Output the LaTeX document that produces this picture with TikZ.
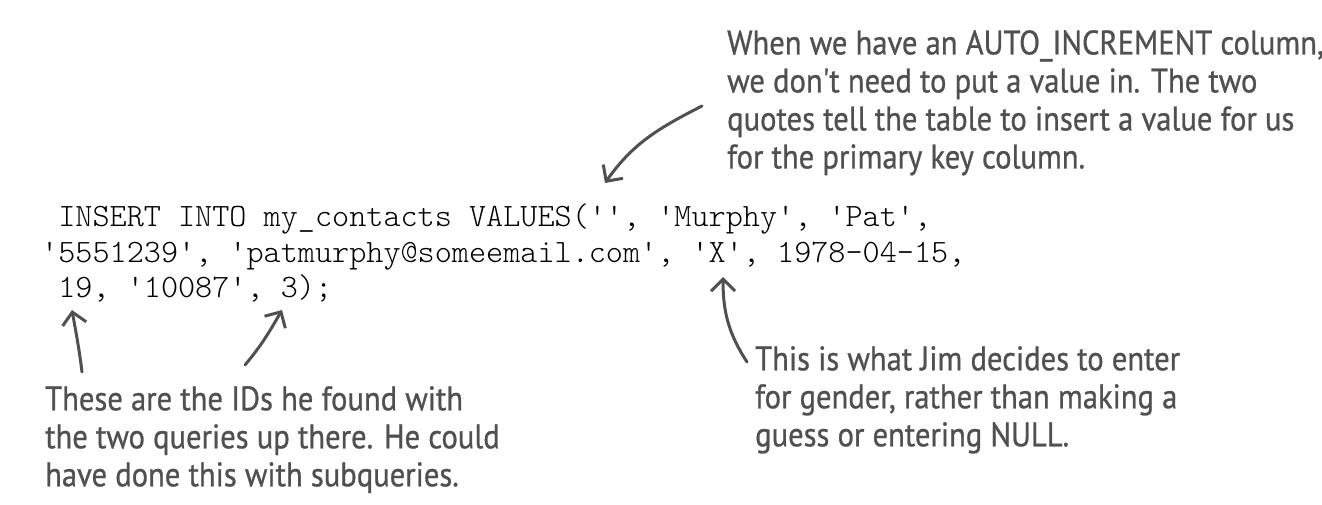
\documentclass[tikz,border=0pt]{standalone}
\usepackage{fontspec}
\setmonofont{Latin Modern Mono Light}
\newfontfamily\handfont[FakeStretch=0.9,FakeBold=0.8]{PT Sans}
\usetikzlibrary{arrows.meta}
\definecolor{pencil}{HTML}{505050}
\tikzset{
  code/.style={anchor=base west, inner sep=0pt, font=\ttfamily\fontsize{32.6}{35}\selectfont},
  hand/.style={anchor=north west, inner sep=0pt, align=left, text=pencil, font=\handfont\fontsize{34}{38}\selectfont},
  remark/.style={draw=pencil, line width=3pt, line cap=round, -{Straight Barb[length=12pt,width=24pt]}}
}
\begin{document}
\begin{tikzpicture}[x=1pt,y=1pt]
\useasboundingbox (0,0) rectangle (1322,504);
% the statement
\node[code] (l1) at (41,277) {\hphantom{0}INSERT INTO my\_contacts VALUES('', 'Murphy', 'Pat',};
\node[code] (l2) at (41,242) {'5551239', 'patmurphy@someemail.com', 'X', 1978-04-15,};
\node[code] (l3) at (41,207) {\hphantom{0}19, '10087', 3);};
% notes round it
\node[hand] (autoinc) at (727,474) {When we have an AUTO\_INCREMENT column,\\we don't need to put a value in. The two\\quotes tell the table to insert a value for us\\for the primary key column.};
\node[hand] (ids) at (45,118) {These are the IDs he found with\\the two queries up there. He could\\have done this with subqueries.};
\node[hand] (gender) at (755,158) {This is what Jim decides to enter\\for gender, rather than making a\\guess or entering NULL.};
% ends of the arrows
\coordinate (autotail) at (702,398);
\coordinate (quotes) at (605,321);
\coordinate (idtail) at (82,132);
\coordinate (id19) at (72,194);
\coordinate (subtail) at (245,139);
\coordinate (id3) at (282,194);
\coordinate (gentail) at (747,142);
\coordinate (genx) at (723,227);
\draw[remark] (autotail) to[out=207,in=55] (quotes);
\draw[remark] (idtail) to[out=97,in=-80] (id19);
\draw[remark] (subtail) to[out=50,in=-120] (id3);
\draw[remark] (gentail) to[out=123,in=-90] (genx);
\end{tikzpicture}
\end{document}
